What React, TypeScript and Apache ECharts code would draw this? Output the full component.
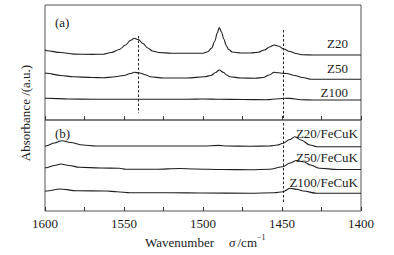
import React, { useEffect, useRef } from 'react';
import * as echarts from 'echarts';

// Wavenumber (cm^-1) vs absorbance (a.u., offset traces)
const z20: number[][] = [
  [1600, 70], [1598.9, 69.3], [1590, 67.5], [1582, 65.9], [1570, 65.6], [1563, 65.8],
  [1558, 67.5], [1553, 70.5], [1549, 75], [1546, 79.5], [1543.5, 81.7], [1541, 80.5],
  [1538, 76.5], [1535, 72], [1532, 69], [1528, 67.5], [1520, 66.8], [1510, 66.7],
  [1500, 66.8], [1497, 68.3], [1494.5, 72], [1492.5, 79], [1491, 87], [1489.7, 92.5],
  [1488.3, 88], [1486.8, 81], [1485.3, 74.5], [1483.8, 70.5], [1481.5, 68], [1476, 67],
  [1470, 67], [1465, 67.8], [1461, 70], [1458, 73], [1455, 75], [1452, 73.8],
  [1449, 71], [1445, 68.5], [1441, 66.5], [1437, 65.2], [1430, 65], [1415, 65], [1400, 65],
];
const z50: number[][] = [
  [1600, 47], [1598.9, 46.7], [1590, 44.5], [1582, 43.3], [1570, 42.5], [1563, 42.3],
  [1557, 43], [1550, 44.5], [1546, 46.5], [1543.5, 47.7], [1540, 47], [1536, 45],
  [1533.5, 43.3], [1525, 42], [1510, 42], [1499, 43.3], [1495, 44.5], [1492, 47.5],
  [1489.7, 50], [1487, 47.5], [1485, 45], [1483, 43.3], [1476, 42], [1467, 41.7],
  [1462, 42.5], [1458, 45], [1455, 47.7], [1450, 46.8], [1447, 46.5], [1442, 44.5],
  [1437, 42.5], [1432, 40.8], [1420, 40.7], [1400, 40.7],
];
const z100: number[][] = [
  [1600, 21.8], [1598.9, 21.7], [1585, 21], [1570, 20.7], [1540, 20.7], [1510, 20.8],
  [1500, 21], [1490, 20.8], [1475, 20.5], [1460, 20.3], [1452, 21.3], [1448, 21.7],
  [1445, 21.6], [1438, 20.3], [1430, 20], [1400, 20],
];
const z20FeCuK: number[][] = [
  [1600, 64.8], [1598.9, 65.3], [1594, 68], [1589.4, 70.3], [1584, 68.5], [1576, 66],
  [1568, 65], [1550, 65], [1500, 65], [1490, 65.6], [1485, 65], [1470, 64.8],
  [1458, 65], [1453, 66], [1449.4, 67.7], [1445, 71.5], [1441.8, 74.3], [1438, 71],
  [1432.3, 66], [1428, 64.3], [1415, 64.3], [1400, 64.3],
];
const z50FeCuK: number[][] = [
  [1600, 43.5], [1598.9, 43.3], [1594, 45.5], [1590, 47], [1585, 45.5], [1578, 43.7],
  [1565, 43], [1553, 42.7], [1549, 41.7], [1530, 41.7], [1515, 42.5], [1505, 42],
  [1488, 41.5], [1470, 41.3], [1458, 41.7], [1449.4, 44.3], [1445, 48], [1440.7, 50.5],
  [1436, 49], [1432, 46], [1426, 42.7], [1415, 41.5], [1400, 41.5],
];
const z100FeCuK: number[][] = [
  [1600, 19.7], [1598.9, 20], [1590.5, 22], [1580, 20.3], [1561, 20], [1554.6, 19.3],
  [1546, 18.3], [1520, 18.3], [1500, 18], [1470, 17.7], [1455, 18.3], [1449.4, 19.3],
  [1444.9, 22.7], [1440, 21.5], [1436.7, 20], [1428, 17.7], [1400, 17.7],
];
const refLinesTop: number[] = [1541.1, 1449.4];
const refLinesBottom: number[] = [1449.4];
const topLabels = ['Z20', 'Z50', 'Z100'];
const bottomLabels = ['Z20/FeCuK', 'Z50/FeCuK', 'Z100/FeCuK'];

const FONT = '"Liberation Serif", "Times New Roman", "DejaVu Serif", serif';
const TXT = '#1a1a1a';

export default function App() {
  const ref = useRef<HTMLDivElement>(null);
  useEffect(() => {
    const chart = echarts.init(ref.current!, null, { renderer: 'svg' });
    const lineSeries = (data: number[][], idx: number, extra: any = {}) => ({
      type: 'line',
      xAxisIndex: idx,
      yAxisIndex: idx,
      data,
      showSymbol: false,
      smooth: 0.35,
      smoothMonotone: 'x',
      lineStyle: { color: '#1e1e1e', width: 1.1 },
      silent: true,
      ...extra,
    });
    const ml = (lines: number[][][]) => ({
      silent: true,
      symbol: ['none', 'none'],
      animation: false,
      label: { show: false },
      lineStyle: { type: [2.5, 2], color: '#222', width: 1 },
      data: lines.map((l) => [{ coord: l[0] }, { coord: l[1] }]),
    });
    const txt = (text: string, x: number, y: number, align: string, size = 13, extra: any = {}) => ({
      type: 'text',
      x,
      y,
      silent: true,
      ...extra,
      style: {
        text,
        fill: TXT,
        font: `${size}px ${FONT}`,
        align,
        verticalAlign: 'middle',
        textAlign: align,
        textVerticalAlign: 'middle',
        ...(extra.style || {}),
      },
    });
    const xAxisBase = {
      type: 'value',
      min: 1400,
      max: 1600,
      interval: 25,
      inverse: true,
      axisLine: { show: false },
      splitLine: { show: false },
      axisTick: { show: true, inside: true, length: 4, lineStyle: { color: '#333', width: 1 } },
    };
    chart.setOption({
      animation: false,
      grid: [
        { left: 45, top: 5, width: 316, height: 115, show: true, borderColor: '#555', borderWidth: 1 },
        { left: 45, top: 120, width: 316, height: 91, show: true, borderColor: '#555', borderWidth: 1 },
      ],
      xAxis: [
        { ...xAxisBase, gridIndex: 0, axisLabel: { show: false } },
        {
          ...xAxisBase,
          gridIndex: 1,
          axisLabel: {
            show: true,
            margin: 6,
            color: TXT,
            fontFamily: FONT,
            fontSize: 13,
            formatter: (v: number) => (v % 50 === 0 ? String(v) : ''),
          },
        },
      ],
      yAxis: [
        { type: 'value', gridIndex: 0, min: 0, max: 115, show: false },
        { type: 'value', gridIndex: 1, min: 0, max: 91, show: false },
      ],
      series: [
        lineSeries(z20, 0, {
          markLine: ml([
            [[refLinesTop[0], 84], [refLinesTop[0], 7]],
            [[refLinesTop[1], 90], [refLinesTop[1], 0]],
          ]),
        }),
        lineSeries(z50, 0),
        lineSeries(z100, 0),
        lineSeries(z20FeCuK, 1, {
          markLine: ml([[[refLinesBottom[0], 88], [refLinesBottom[0], 7]]]),
        }),
        lineSeries(z50FeCuK, 1),
        lineSeries(z100FeCuK, 1),
      ],
      graphic: [
        txt('(a)', 55, 22, 'left'),
        txt('(b)', 55, 133, 'left'),
        txt(topLabels[0], 348, 43, 'right'),
        txt(topLabels[1], 348, 68, 'right'),
        txt(topLabels[2], 348, 92.5, 'right'),
        txt(bottomLabels[0], 358, 133, 'right'),
        txt(bottomLabels[1], 358, 157.5, 'right'),
        txt(bottomLabels[2], 358, 182, 'right'),
        txt('Absorbance /(a.u.)', 25, 113, 'center', 13, { rotation: Math.PI / 2 }),
        txt('Wavenumber', 145, 242, 'left'),
        txt('σ', 229, 242, 'left', 13, { style: { font: `italic 13px ${FONT}` } }),
        txt('/cm', 237.5, 242, 'left'),
        txt('−1', 257, 237, 'left', 8),
      ],
    });
    return () => chart.dispose();
  }, []);
  return (
    <div
      ref={ref}
      style={{ position: 'absolute', left: 0, top: 0, width: 394, height: 255, background: '#fff' }}
    />
  );
}
